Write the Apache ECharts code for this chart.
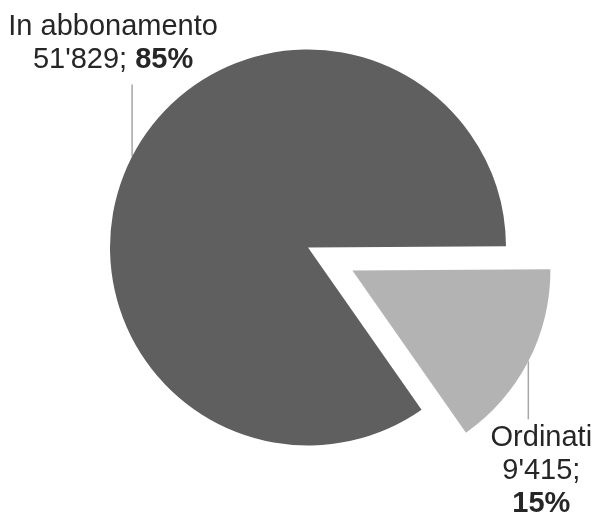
<!DOCTYPE html>
<html>
<head>
<meta charset="utf-8">
<script src="https://cdn.jsdelivr.net/npm/echarts@6/dist/echarts.min.js"></script>
<style>
html,body{margin:0;padding:0;background:#fff;}
#c{width:593px;height:518px;}
</style>
</head>
<body>
<div id="c"></div>
<script>
const categories = ['In abbonamento', 'Ordinati'];
const values = [51829, 9415];
const colors = ['#5f5f5f', '#b3b3b3'];

function fmt(n) {
  return String(n).replace(/\B(?=(\d{3})+(?!\d))/g, "'");
}

// layout (style) settings
const CX = 308, CY = 247.5, R = 198, START = 305, EXPLODE = 50;
const total = values.reduce((a, b) => a + b, 0);
// mid angle of exploded slice (index 1), derived from the data
const midDeg = START - 360 * (values[0] + values[1] / 2) / total;
const ex = EXPLODE * Math.cos(midDeg * Math.PI / 180);
const ey = -EXPLODE * Math.sin(midDeg * Math.PI / 180);

const FONT = 'Liberation Sans, Arial, sans-serif';
const labelBase = {
  show: true,
  position: 'outside',
  overflow: 'none',
  edgeDistance: 0,
  fontFamily: FONT,
  fontSize: 29,
  color: '#262626',
  align: 'center',
  formatter: function (p) {
    const pct = Math.round(p.percent) + '%';
    if (p.dataIndex === 0) {
      return '{n|' + p.name + '}\n{n|' + fmt(p.value) + '; }{b|' + pct + '}';
    }
    return '{n|' + p.name + '}\n{n|' + fmt(p.value) + ';}\n{b|' + pct + '}';
  },
  rich: {
    n: { fontFamily: FONT, fontSize: 29, lineHeight: 33, color: '#262626' },
    b: { fontFamily: FONT, fontSize: 29, lineHeight: 33, fontWeight: 'bold', color: '#262626' }
  }
};
const lineStyle = { color: '#a6a6a6', width: 1.5 };

function makeData(visibleIndex) {
  return categories.map((name, i) => ({
    name: name,
    value: values[i],
    itemStyle: { color: i === visibleIndex ? colors[i] : 'rgba(0,0,0,0)' },
    label: { show: i === visibleIndex },
    labelLine: { show: i === visibleIndex }
  }));
}

const chart = echarts.init(document.getElementById('c'));
chart.setOption({
  animation: false,
  series: [{
    type: 'pie',
    silent: true,
    center: [CX, CY],
    radius: R,
    startAngle: START,
    clockwise: true,
    data: makeData(0),
    label: labelBase,
    labelLine: { show: true, lineStyle: lineStyle },
    labelLayout: function (p) {
      const pts = p.labelLinePoints;
      if (!pts) return {};
      const s = pts[0];
      const e = [s[0], s[1] - 72];
      return {
        x: e[0] - 19, y: e[1] - 8,
        align: 'center', verticalAlign: 'bottom',
        labelLinePoints: [s, e, e]
      };
    }
  }, {
    type: 'pie',
    silent: true,
    center: [CX + ex, CY + ey],
    radius: R,
    startAngle: START,
    clockwise: true,
    data: makeData(1),
    label: labelBase,
    labelLine: { show: true, lineStyle: lineStyle },
    labelLayout: function (p) {
      const pts = p.labelLinePoints;
      if (!pts) return {};
      const s = pts[0];
      const e = [s[0], s[1] + 58];
      return {
        x: e[0] + 13, y: e[1] + 2,
        align: 'center', verticalAlign: 'top',
        labelLinePoints: [s, e, e]
      };
    }
  }]
});
</script>
</body>
</html>
